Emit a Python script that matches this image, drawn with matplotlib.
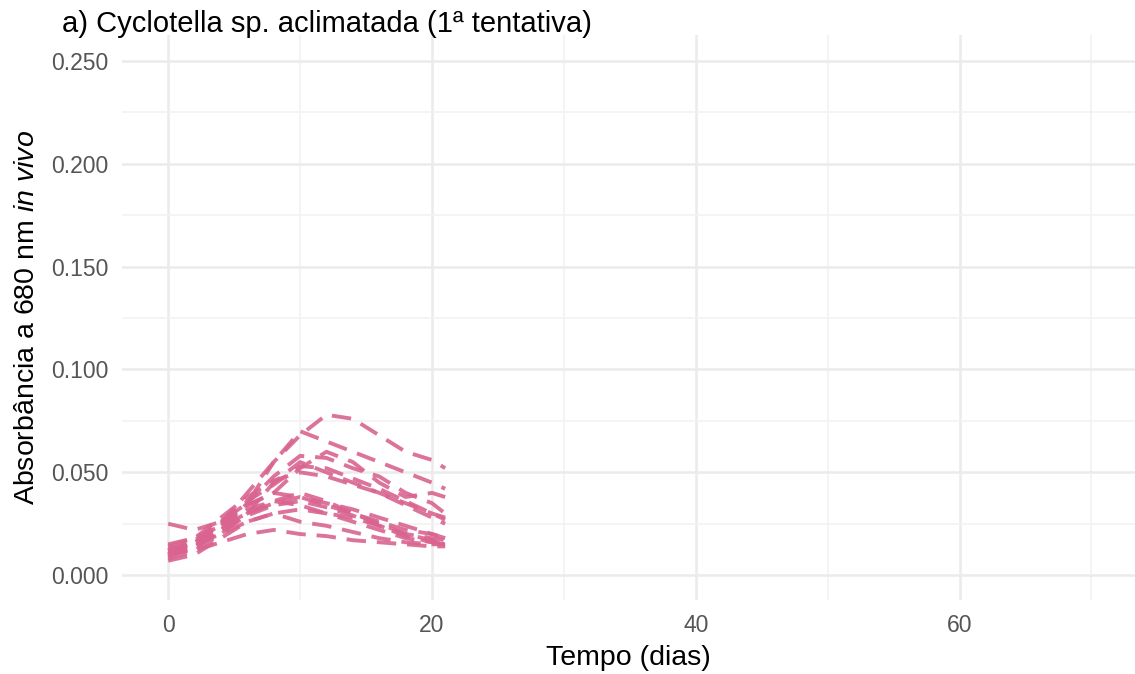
import matplotlib.pyplot as plt
from matplotlib.ticker import MultipleLocator

plt.rcParams['font.family'] = ['Liberation Sans', 'DejaVu Sans']
plt.rcParams['mathtext.fontset'] = 'custom'
plt.rcParams['mathtext.it'] = 'Liberation Sans:italic'
plt.rcParams['mathtext.rm'] = 'Liberation Sans'

# dias de medida e absorbância de cada réplica
dias = [0, 2, 4, 6, 8, 10, 12, 14, 16, 18, 20, 21]
replicas = [
    [0.025, 0.022, 0.026, 0.035, 0.055, 0.068, 0.078, 0.076, 0.068, 0.060, 0.056, 0.052],
    [0.012, 0.016, 0.025, 0.040, 0.055, 0.070, 0.065, 0.060, 0.055, 0.050, 0.045, 0.042],
    [0.010, 0.015, 0.022, 0.035, 0.048, 0.058, 0.057, 0.052, 0.048, 0.040, 0.035, 0.030],
    [0.008, 0.012, 0.020, 0.030, 0.045, 0.055, 0.050, 0.045, 0.040, 0.035, 0.030, 0.028],
    [0.012, 0.015, 0.025, 0.034, 0.040, 0.052, 0.060, 0.055, 0.045, 0.038, 0.040, 0.038],
    [0.015, 0.018, 0.024, 0.030, 0.035, 0.038, 0.035, 0.032, 0.028, 0.024, 0.020, 0.018],
    [0.010, 0.013, 0.022, 0.030, 0.036, 0.040, 0.036, 0.030, 0.025, 0.020, 0.017, 0.016],
    [0.007, 0.010, 0.018, 0.026, 0.030, 0.032, 0.030, 0.026, 0.022, 0.018, 0.016, 0.015],
    [0.013, 0.015, 0.020, 0.026, 0.030, 0.026, 0.024, 0.021, 0.018, 0.016, 0.015, 0.015],
    [0.011, 0.012, 0.016, 0.020, 0.022, 0.020, 0.019, 0.017, 0.016, 0.015, 0.014, 0.014],
    [0.009, 0.014, 0.022, 0.032, 0.036, 0.034, 0.030, 0.028, 0.024, 0.019, 0.016, 0.015],
    [0.014, 0.018, 0.028, 0.038, 0.046, 0.050, 0.048, 0.044, 0.040, 0.034, 0.028, 0.025],
    [0.010, 0.016, 0.024, 0.034, 0.040, 0.038, 0.034, 0.030, 0.026, 0.022, 0.020, 0.018],
    [0.012, 0.017, 0.026, 0.036, 0.044, 0.053, 0.052, 0.047, 0.042, 0.036, 0.030, 0.027],
    [0.011, 0.014, 0.021, 0.029, 0.034, 0.036, 0.033, 0.029, 0.024, 0.020, 0.018, 0.017],
]
yticks = [0.0, 0.05, 0.10, 0.15, 0.20, 0.25]
xticks = [0, 20, 40, 60]

fig = plt.figure(figsize=(11.35, 6.74), dpi=100)
ax = fig.add_axes([0.1075, 0.11, 0.8925, 0.838])

for r in replicas:
    ax.plot(dias, r, color='#d9648f', lw=2.8, dashes=(5, 2.8), alpha=0.9)

ax.set_xlim(-3.5, 73.3)
ax.set_ylim(-0.012, 0.2626)
ax.set_xticks(xticks)
ax.set_yticks(yticks)
ax.set_yticklabels([f"{v:.3f}" for v in yticks])
ax.xaxis.set_minor_locator(MultipleLocator(10))
ax.yaxis.set_minor_locator(MultipleLocator(0.025))

ax.grid(which='major', color='#ebebeb', lw=1.8)
ax.grid(which='minor', color='#f2f2f2', lw=1.2)
ax.set_axisbelow(True)
for s in ax.spines.values():
    s.set_visible(False)
ax.tick_params(which='both', length=0, labelsize=16.5, labelcolor='#555555', pad=10)

ax.set_xlabel('Tempo (dias)', fontsize=20.5, labelpad=6)
ax.set_ylabel(r'Absorbância a 680 nm $\mathit{in\ vivo}$', fontsize=20.5, labelpad=8)
fig.text(0.055, 0.965, 'a) Cyclotella sp. aclimatada (1ª tentativa)', fontsize=21,
         ha='left', va='center')

fig.savefig('out.png')
plt.close(fig)
